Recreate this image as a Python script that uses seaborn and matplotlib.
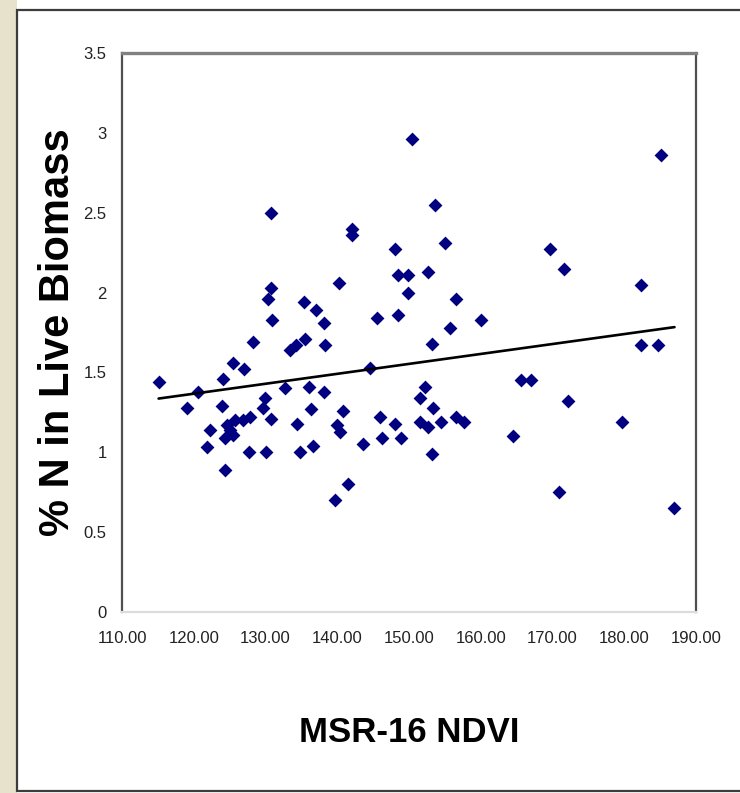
import numpy as np
import pandas as pd
import matplotlib
matplotlib.use("Agg")
import matplotlib.pyplot as plt
import seaborn as sns
from matplotlib.patches import Rectangle

# values
ndvi = [115.1, 119.0, 120.6, 121.9, 122.2, 123.9, 124.1, 124.4, 124.4, 124.6,
        125.1, 125.5, 125.5, 125.7, 126.9, 127.0, 127.7, 127.8, 128.3, 129.6,
        129.9, 130.1, 130.3, 130.7, 130.7, 130.7, 130.9, 132.7, 133.4, 134.3,
        134.4, 134.8, 135.4, 135.5, 136.0, 136.4, 136.6, 137.1, 138.1, 138.2,
        138.3, 139.7, 139.9, 140.2, 140.4, 140.8, 141.5, 142.0, 142.0, 143.6,
        144.5, 145.5, 146.0, 146.2, 148.1, 148.1, 148.5, 148.5, 148.9, 149.8,
        149.9, 150.4, 151.5, 151.5, 152.2, 152.7, 152.7, 153.2, 153.2, 153.4,
        153.6, 154.4, 155.0, 155.7, 156.6, 156.6, 157.7, 160.1, 164.5, 165.6,
        167.0, 169.7, 170.9, 171.6, 172.1, 179.7, 182.3, 182.4, 184.7, 185.1,
        187.0]
n_live = [1.44, 1.28, 1.38, 1.03, 1.14, 1.29, 1.46, 0.89, 1.09, 1.17,
          1.14, 1.11, 1.56, 1.20, 1.20, 1.52, 1.00, 1.22, 1.69, 1.28,
          1.34, 1.00, 1.96, 1.21, 2.03, 2.50, 1.83, 1.40, 1.64, 1.67,
          1.18, 1.00, 1.94, 1.71, 1.41, 1.27, 1.04, 1.89, 1.81, 1.38,
          1.67, 0.70, 1.17, 2.06, 1.13, 1.26, 0.80, 2.40, 2.36, 1.05,
          1.53, 1.84, 1.22, 1.09, 2.27, 1.18, 2.11, 1.86, 1.09, 2.00,
          2.11, 2.96, 1.34, 1.19, 1.41, 2.13, 1.16, 1.68, 0.99, 1.28,
          2.55, 1.19, 2.31, 1.78, 1.96, 1.22, 1.19, 1.83, 1.10, 1.45,
          1.45, 2.27, 0.75, 2.15, 1.32, 1.19, 1.67, 2.05, 1.67, 2.86,
          0.65]
x_ticks = [110, 120, 130, 140, 150, 160, 170, 180, 190]
y_ticks = [0, 0.5, 1, 1.5, 2, 2.5, 3, 3.5]

df = pd.DataFrame({"ndvi": ndvi, "n_live": n_live})

sns.set_theme(style="white")
plt.rcParams["font.family"] = ["Liberation Sans Narrow", "Liberation Sans", "DejaVu Sans"]

W, H = 740, 793
fig = plt.figure(figsize=(W / 100, H / 100), dpi=100)
fig.patch.set_facecolor("white")

# beige strip on the left and the white panel with its border (behind the axes)
fig.patches.append(Rectangle((0, 0), 17 / W, 1, transform=fig.transFigure,
                             facecolor="#e6e2cc", edgecolor="none", zorder=-3))
fig.patches.append(Rectangle((17 / W, 2 / H), 1.0, (H - 12) / H, transform=fig.transFigure,
                             facecolor="white", edgecolor="#3c3c3c", lw=1.6, zorder=-2))

ax = fig.add_axes([122 / W, 1 - 612 / H, 574 / W, 559 / H])
ax.set_zorder(2)
ax.set_facecolor("white")

sns.scatterplot(data=df, x="ndvi", y="n_live", marker="D", s=50, color="#000080",
                linewidth=0, ax=ax, zorder=3)
sns.regplot(data=df, x="ndvi", y="n_live", scatter=False, ci=None, truncate=True,
            color="black", line_kws={"lw": 1.9, "zorder": 4}, ax=ax)

ax.set_xlim(110, 190)
ax.set_ylim(0, 3.5)
ax.set_xticks(x_ticks)
ax.set_xticklabels([f"{v:.2f}" for v in x_ticks])
ax.set_yticks(y_ticks)
ax.set_yticklabels([f"{v:g}" for v in y_ticks])

ax.spines["top"].set_color("#808080")
ax.spines["top"].set_linewidth(2.4)
ax.spines["right"].set_color("#505050")
ax.spines["right"].set_linewidth(1.6)
ax.spines["left"].set_color("#505050")
ax.spines["left"].set_linewidth(1.6)
ax.spines["bottom"].set_color("#dcdcdc")
ax.spines["bottom"].set_linewidth(1.6)

ax.tick_params(axis="both", direction="out", length=4, width=1.2, color="#444444",
               labelsize=12, labelcolor="#222222")
ax.tick_params(axis="x", pad=10)
ax.tick_params(axis="y", pad=7)

ax.set_xlabel("MSR-16 NDVI", fontsize=25, fontweight="bold", labelpad=50, color="black")
ax.set_ylabel("% N in Live Biomass", fontsize=30, fontweight="bold", labelpad=4, color="black")

fig.savefig("out.png", dpi=100)
